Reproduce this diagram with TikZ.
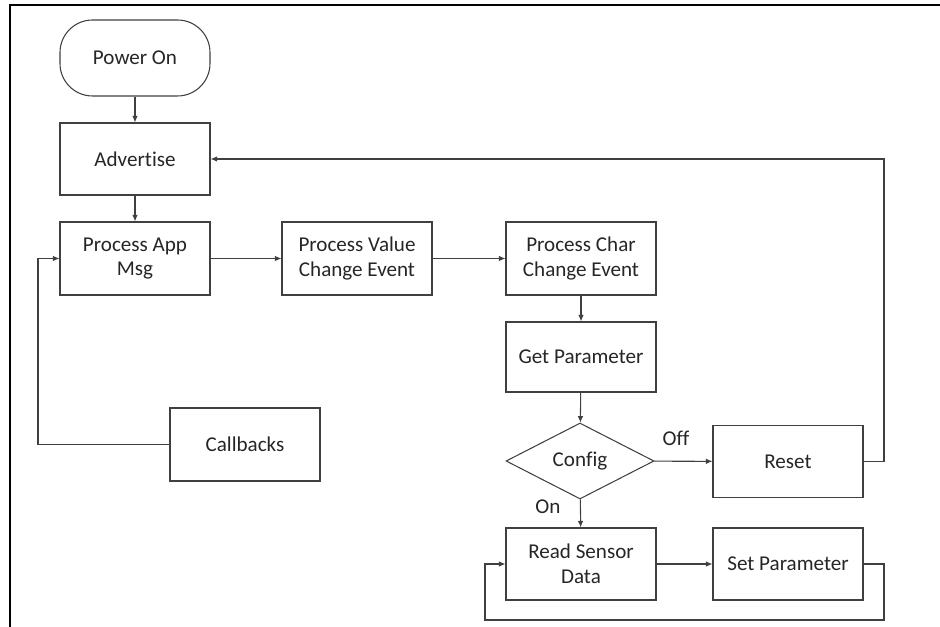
\documentclass[tikz,border=0pt]{standalone}
\usepackage{fontspec}
\setmainfont{Carlito}[Ligatures=NoCommon]
\usepackage{xcolor}
\usepackage{tikz}
\usetikzlibrary{
  arrows.meta,
  positioning,
  shapes.geometric,
  calc
}
\definecolor{linegray}{HTML}{404040}
\definecolor{textgray}{HTML}{262626}

\begin{document}
\begin{tikzpicture}[
  procB/.style={
    draw=linegray, line width=0.6pt, minimum width=3cm, minimum height=1.44cm,
    align=center, font=\fontsize{12}{14}\selectfont, text=textgray, inner sep=2pt,
  },
  termB/.style={
    procB, rounded corners=0.65cm, minimum height=1.52cm,
  },
  decB/.style={
    draw=linegray, line width=0.6pt, diamond, aspect=1.95, minimum width=2.96cm,
    minimum height=1.52cm, inner sep=0pt, font=\fontsize{12}{14}\selectfont, text=textgray,
  },
  flow/.style={
    draw=linegray, line width=0.6pt, -{Latex[length=1.3mm,width=1.1mm]},
  },
  lbl/.style={font=\fontsize{12}{14}\selectfont, text=textgray},
]

% page and frame
\useasboundingbox (0,0) rectangle (18.8,-12.54);
\draw[line width=1.1pt] (18.8,-0.1) -- (0.2,-0.1) -- (0.2,-12.54);

% Left column
\node[termB] (pwr) at (2.7,-1.16) {Power On};
\node[procB] (adv) at (2.7,-3.18) {Advertise};
\node[procB, minimum height=1.46cm] (app) at (2.7,-5.17) {Process App\\Msg};
\node[procB, minimum height=1.46cm] (cb) at (4.9,-8.89) {Callbacks};

% Event row
\node[procB, minimum height=1.46cm] (val) at (7.14,-5.17) {Process Value\\Change Event};
\node[procB, minimum height=1.46cm] (chr) at (11.62,-5.17) {Process Char\\Change Event};

% Right part
\node[procB, minimum height=1.4cm] (getp) at (11.62,-7.14) {Get Parameter};
\node[decB] (cfg) at (11.6,-9.22) {Config};
\node[procB] (rst) at (15.76,-9.23) {Reset};
\node[procB] (rsd) at (11.62,-11.28) {Read Sensor\\Data};
\node[procB] (setp) at (15.76,-11.28) {Set Parameter};

\node[lbl] (off) at (13.52,-8.76) {Off};
\node[lbl] (on) at (10.96,-10.14) {On};

% turning points
\coordinate (cbturn) at (0.76,-8.89);
\coordinate (rstturn) at (17.68,-9.23);
\coordinate (loopR) at (17.68,-12.4);
\coordinate (loopL) at (9.7,-12.4);

% Connectors
\draw[flow] (pwr) -- (adv);
\draw[flow] (adv) -- (app);
\draw[flow] (app) -- (val);
\draw[flow] (val) -- (chr);
\draw[flow] (chr) -- (getp);
\draw[flow] (getp) -- (cfg);
\draw[flow] (cfg) -- (rst);
\draw[flow] (cfg) -- (rsd);
\draw[flow] (rsd) -- (setp);
\draw[flow] (cb.west) -- (cbturn) |- (app.west);
\draw[flow] (rst.east) -- (rstturn) |- (adv.east);
\draw[flow] (setp.east) -| (loopR) -- (loopL) |- (rsd.west);

\end{tikzpicture}
\end{document}
